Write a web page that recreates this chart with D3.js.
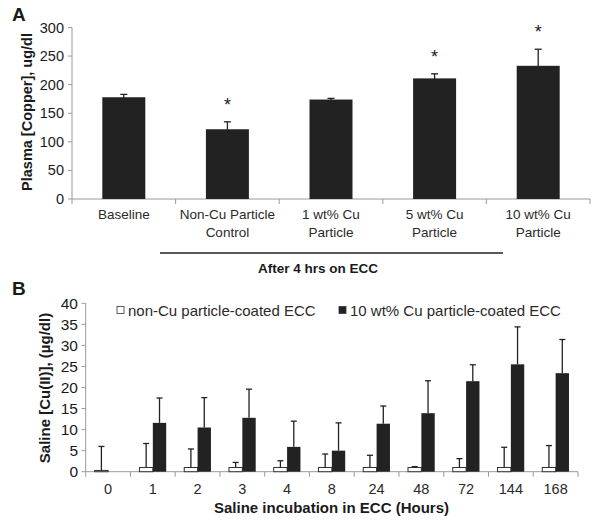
<!DOCTYPE html>
<html><head><meta charset="utf-8">
<script src="https://cdn.jsdelivr.net/npm/d3@7"></script>
<style>body{margin:0;background:#fff}svg{display:block;font-family:"Liberation Sans",Arial,sans-serif}</style>
</head><body><svg id="c" width="600" height="524"></svg>
<script>
// Panel A data
const catsA = [["Baseline"],["Non-Cu Particle","Control"],["1 wt% Cu","Particle"],["5 wt% Cu","Particle"],["10 wt% Cu","Particle"]];
const valsA = [178, 122, 174, 211, 233];
const errA  = [5, 13, 2, 8, 29];
const starA = [false, true, false, true, true];
const ticksA = [0,50,100,150,200,250,300];

// Panel B data
const hoursB = ["0","1","2","3","4","8","24","48","72","144","168"];
const seriesB = ["non-Cu particle-coated ECC","10 wt% Cu particle-coated ECC"];
const nonCuB = [0.3, 1, 1, 1, 1, 1, 1, 1, 1, 1, 1];
const nonCuErr = [5.7, 5.7, 4.4, 1.2, 1.6, 3.2, 2.9, 0.2, 2.1, 4.8, 5.2];
const cuB = [0, 11.6, 10.5, 12.8, 5.9, 5.0, 11.4, 13.9, 21.5, 25.5, 23.4];
const cuErr = [0, 5.9, 7.1, 6.8, 6.1, 6.6, 4.2, 7.7, 3.9, 8.9, 8.0];
const ticksB = [0,5,10,15,20,25,30,35,40];

const svg = d3.select("#c");
const axisCol = "#9a9a9a", barCol = "#222", txt = "#1a1a1a";

// ---------- Panel A ----------
const xA = d3.scaleBand().domain(d3.range(catsA.length)).range([72, 590]).paddingInner(0.585).paddingOuter(0.2925);
const yA = d3.scaleLinear().domain([0, 300]).range([199, 27.5]);
const gA = svg.append("g");

gA.append("text").attr("x", 12).attr("y", 21).attr("font-size", 19).attr("font-weight", "bold").attr("fill", txt).text("A");

// y axis
gA.append("line").attr("x1", 72).attr("x2", 72).attr("y1", yA(300)).attr("y2", yA(0)).attr("stroke", axisCol);
ticksA.forEach(t => {
  gA.append("line").attr("x1", 68).attr("x2", 72).attr("y1", yA(t)).attr("y2", yA(t)).attr("stroke", axisCol);
  gA.append("text").attr("x", 64).attr("y", yA(t)).attr("dy", "0.35em").attr("text-anchor", "end")
    .attr("font-size", 14.5).attr("fill", txt).text(t);
});
// x axis
gA.append("line").attr("x1", 72).attr("x2", 590).attr("y1", yA(0)).attr("y2", yA(0)).attr("stroke", axisCol);
d3.range(catsA.length + 1).forEach(i => {
  const x = 72 + xA.step() * i;
  gA.append("line").attr("x1", x).attr("x2", x).attr("y1", yA(0)).attr("y2", yA(0) + 5).attr("stroke", axisCol);
});
// bars
catsA.forEach((c, i) => {
  const x0 = xA(i), w = xA.bandwidth(), cx = x0 + w / 2;
  gA.append("rect").attr("x", x0).attr("y", yA(valsA[i])).attr("width", w).attr("height", yA(0) - yA(valsA[i])).attr("fill", barCol);
  const et = yA(valsA[i] + errA[i]);
  gA.append("line").attr("x1", cx).attr("x2", cx).attr("y1", yA(valsA[i]) + 4).attr("y2", et).attr("stroke", barCol).attr("stroke-width", 1.3);
  gA.append("line").attr("x1", cx - 3.5).attr("x2", cx + 3.5).attr("y1", et).attr("y2", et).attr("stroke", barCol).attr("stroke-width", 1.3);
  if (starA[i]) gA.append("text").attr("x", cx).attr("y", et - 11).attr("text-anchor", "middle").attr("font-size", 18).attr("fill", txt).text("*");
  c.forEach((line, j) => {
    gA.append("text").attr("x", cx).attr("y", 219 + j * 18).attr("text-anchor", "middle").attr("font-size", 13.5).attr("fill", "#2a2a2a").text(line);
  });
});
// y title
gA.append("text").attr("transform", "translate(27,112) rotate(-90)").attr("text-anchor", "middle").attr("dy", "0.35em")
  .attr("font-size", 14.5).attr("font-weight", "bold").attr("fill", txt).text("Plasma [Copper], ug/dl");
// bracket
gA.append("line").attr("x1", 160).attr("x2", 503).attr("y1", 253).attr("y2", 253).attr("stroke", "#222").attr("stroke-width", 1.3);
gA.append("text").attr("x", 318).attr("y", 273).attr("text-anchor", "middle").attr("font-size", 13.5).attr("font-weight", "bold").attr("fill", txt).text("After 4 hrs on ECC");

// ---------- Panel B ----------
const xB = d3.scaleBand().domain(hoursB).range([85.7, 578]).paddingInner(0.403).paddingOuter(0.2015);
const xS = d3.scaleBand().domain(seriesB).range([0, xB.bandwidth()]);
const yB = d3.scaleLinear().domain([0, 40]).range([471.7, 303.3]);
const gB = svg.append("g");

gB.append("text").attr("x", 12).attr("y", 295).attr("font-size", 19).attr("font-weight", "bold").attr("fill", txt).text("B");

gB.append("line").attr("x1", 85.7).attr("x2", 85.7).attr("y1", yB(40)).attr("y2", yB(0)).attr("stroke", axisCol);
ticksB.forEach(t => {
  gB.append("line").attr("x1", 81.5).attr("x2", 85.7).attr("y1", yB(t)).attr("y2", yB(t)).attr("stroke", axisCol);
  gB.append("text").attr("x", 78).attr("y", yB(t)).attr("dy", "0.35em").attr("text-anchor", "end")
    .attr("font-size", 15.5).attr("fill", txt).text(t);
});
gB.append("line").attr("x1", 85.7).attr("x2", 578).attr("y1", yB(0)).attr("y2", yB(0)).attr("stroke", axisCol);
d3.range(hoursB.length + 1).forEach(i => {
  const x = 85.7 + xB.step() * i;
  gB.append("line").attr("x1", x).attr("x2", x).attr("y1", yB(0)).attr("y2", yB(0) + 5).attr("stroke", axisCol);
});

function errBar(cx, v, e) {
  const et = yB(v + e);
  gB.append("line").attr("x1", cx).attr("x2", cx).attr("y1", yB(v)).attr("y2", et).attr("stroke", barCol).attr("stroke-width", 1.3);
  gB.append("line").attr("x1", cx - 3).attr("x2", cx + 3).attr("y1", et).attr("y2", et).attr("stroke", barCol).attr("stroke-width", 1.3);
}
hoursB.forEach((h, i) => {
  const bx = xB(h), w = xS.bandwidth();
  // non-Cu (white)
  const x1 = bx + xS(seriesB[0]);
  gB.append("rect").attr("x", x1).attr("y", yB(nonCuB[i])).attr("width", w).attr("height", yB(0) - yB(nonCuB[i]))
    .attr("fill", "#fff").attr("stroke", "#333").attr("stroke-width", 1);
  errBar(x1 + w / 2, nonCuB[i], nonCuErr[i]);
  // Cu (black)
  const x2 = bx + xS(seriesB[1]);
  if (cuB[i] > 0) {
    gB.append("rect").attr("x", x2).attr("y", yB(cuB[i])).attr("width", w).attr("height", yB(0) - yB(cuB[i])).attr("fill", barCol);
    errBar(x2 + w / 2, cuB[i], cuErr[i]);
  }
  gB.append("text").attr("x", bx + xB.bandwidth() / 2).attr("y", 494).attr("text-anchor", "middle").attr("font-size", 14.5).attr("fill", "#2a2a2a").text(h);
});

// legend
const leg = [[117, 128, "#fff"], [339, 350, barCol]];
seriesB.forEach((s, i) => {
  const [sx, tx, f] = leg[i];
  gB.append("rect").attr("x", sx).attr("y", 306.5).attr("width", 7).attr("height", 7).attr("fill", f).attr("stroke", "#333").attr("stroke-width", 0.8);
  gB.append("text").attr("x", tx).attr("y", 315.5).attr("font-size", 15).attr("fill", "#2a2a2a").text(s);
});

gB.append("text").attr("transform", "translate(45,388) rotate(-90)").attr("text-anchor", "middle").attr("dy", "0.35em")
  .attr("font-size", 15).attr("font-weight", "bold").attr("fill", txt).text("Saline [Cu(II)], (µg/dl)");
gB.append("text").attr("x", 331.5).attr("y", 513).attr("text-anchor", "middle").attr("font-size", 15).attr("font-weight", "bold").attr("fill", txt).text("Saline incubation in ECC (Hours)");
</script></body></html>
